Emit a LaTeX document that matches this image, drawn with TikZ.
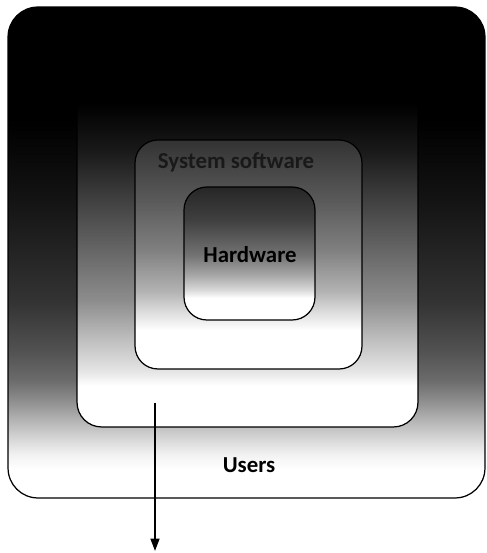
\documentclass[tikz,border=0pt]{standalone}
\usepackage{fontspec}
\setmainfont{Carlito}
\usetikzlibrary{arrows.meta, positioning}
% shadings: 25bp = bottom of the box, 75bp = top of the box
\pgfdeclareverticalshading{usersShade}{100bp}{color(0bp)=(white); color(27.9bp)=(white);
    color(29.4bp)=(black!5); color(30.9bp)=(black!15); color(33bp)=(black!30);
    color(35bp)=(black!45); color(37bp)=(black!58); color(40bp)=(black!68);
    color(45bp)=(black!80); color(55bp)=(black!92); color(63.5bp)=(black); color(100bp)=(black)}
\pgfdeclareverticalshading{appShade}{100bp}{color(0bp)=(white); color(31bp)=(white);
    color(33bp)=(black!10); color(37.6bp)=(black!25); color(43.4bp)=(black!45);
    color(50.6bp)=(black!60); color(58bp)=(black!75); color(65bp)=(black!90);
    color(72bp)=(black); color(100bp)=(black)}
\pgfdeclareverticalshading{sysShade}{100bp}{color(0bp)=(white); color(33.5bp)=(white);
    color(37.9bp)=(black!15); color(42bp)=(black!30); color(51bp)=(black!50);
    color(62bp)=(black!65); color(75bp)=(black!80); color(100bp)=(black!80)}
\pgfdeclareverticalshading{hwShade}{100bp}{color(0bp)=(white); color(33.3bp)=(white);
    color(36.3bp)=(black!15); color(42bp)=(black!35); color(49.4bp)=(black!55);
    color(62.6bp)=(black!75); color(75bp)=(black!85); color(100bp)=(black!85)}
\tikzset{
    layerBox/.style={
        draw=black, line width=0.7pt, rounded corners=9pt, inner sep=0pt
    },
    layerLabel/.style={
        font=\fontsize{13}{16}\selectfont\bfseries, inner sep=1pt
    },
    flowArrow/.style={
        -{Triangle[length=7pt, width=5pt]}, line width=1.1pt, draw=black
    }
}
\begin{document}
\begin{tikzpicture}[x=0.02cm, y=-0.02cm]
    \useasboundingbox (0,0) rectangle (486,553);

    % ── NESTED LAYERS
    \node[layerBox, rounded corners=17pt, minimum width=9.54cm, minimum height=9.82cm,
        shading=usersShade] (users) at (246.5, 252.5) {};
    \node[layerBox, rounded corners=14pt, minimum width=6.82cm, minimum height=6.9cm,
        shading=appShade] (appSoft) at (247.5, 254.5) {};
    \node[layerBox, rounded corners=13pt, minimum width=4.54cm, minimum height=4.58cm,
        shading=sysShade] (sysSoft) at (248.5, 254.5) {};
    \node[layerBox, rounded corners=13pt, minimum width=2.62cm, minimum height=2.66cm,
        shading=hwShade] (hardware) at (249.5, 253.5) {};

    % ── LABELS
    \node[layerLabel, text=black!90] (sysLabel) at (236, 162) {System software};
    \node[layerLabel] (hwLabel) at (250, 255) {Hardware};
    \node[layerLabel] (usersLabel) at (249, 465) {Users};

    % ── ARROW
    \coordinate (arrowStart) at (155, 403);
    \coordinate (arrowEnd) at (155, 551);
    \draw[flowArrow] (arrowStart) -- (arrowEnd);
\end{tikzpicture}
\end{document}
